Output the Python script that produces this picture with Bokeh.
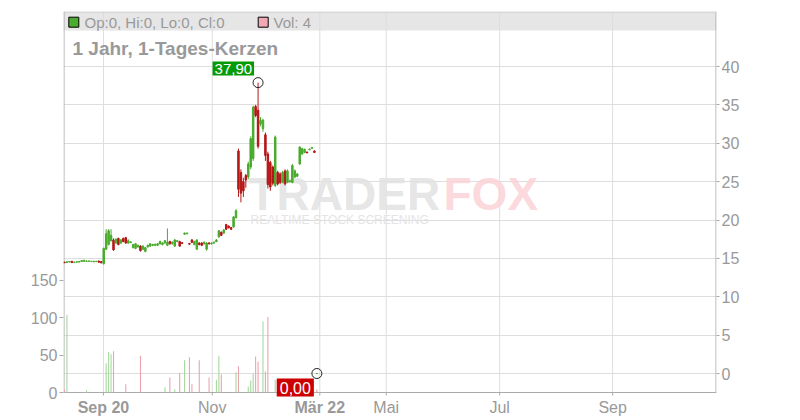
from bokeh.plotting import figure
from bokeh.models import Range1d, LinearAxis, FixedTicker, Label, BoxAnnotation, ColumnDataSource
from bokeh.embed import file_html
from bokeh.resources import INLINE
from bokeh.core.properties import value

# ---------------- data ----------------
opens = [14.50, 14.45, 14.52, 14.62, 14.45, 14.50, 14.52, 14.58, 14.62, 14.60,
         14.62, 14.58, 14.55, 14.58, 14.66, 14.58, 14.30, 16.20, 16.80, 17.30,
         17.40, 17.00, 17.60, 17.00, 17.60, 17.70, 17.00, 17.05, 16.40, 16.30,
         16.50, 16.60, 16.20, 15.90, 16.50, 16.60, 16.70, 16.70, 16.70, 16.90,
         16.80, 17.00, 16.70, 17.20, 16.90, 16.60, 17.20, 17.20, 17.05, 18.15,
         18.20, 16.95, 17.40, 16.80, 16.20, 17.00, 17.00, 16.90, 16.20, 17.00,
         16.90, 17.00, 17.20, 17.80, 18.40, 18.30, 19.40, 19.20, 19.00, 19.10,
         20.30, 29.00, 26.20, 25.00, 25.80, 25.60, 26.90, 28.00, 34.80, 34.30,
         32.50, 31.90, 31.10, 28.60, 27.50, 26.90, 24.50, 26.20, 26.00, 24.90,
         26.40, 24.90, 25.00, 24.90, 25.60, 25.70, 27.30, 28.60, 28.80, 28.85,
         29.15, 29.35, 29.00, 0.0]
highs = [14.55, 14.60, 14.62, 14.64, 14.56, 14.60, 14.62, 14.78, 14.80, 14.72,
         14.70, 14.66, 14.66, 14.66, 14.68, 14.62, 16.40, 18.80, 18.80, 18.80,
         17.60, 17.60, 17.70, 17.50, 17.70, 17.80, 17.50, 17.20, 16.90, 17.00,
         16.80, 16.70, 16.70, 16.50, 16.80, 17.00, 16.90, 16.90, 17.00, 17.30,
         17.10, 17.40, 18.90, 17.30, 17.20, 17.50, 17.40, 17.30, 17.10, 18.35,
         18.35, 17.00, 17.50, 17.30, 17.50, 17.10, 17.10, 17.20, 17.10, 17.10,
         17.10, 17.20, 17.50, 18.70, 18.50, 18.80, 19.50, 19.30, 19.10, 20.50,
         21.40, 29.30, 26.60, 25.50, 26.00, 27.60, 30.90, 34.90, 35.00, 37.90,
         33.40, 33.20, 31.40, 28.90, 27.70, 27.10, 31.00, 26.40, 26.20, 26.40,
         26.60, 26.60, 25.20, 27.30, 26.60, 26.10, 29.60, 29.40, 29.30, 28.90,
         29.30, 29.50, 29.05, 0.0]
lows = [14.40, 14.42, 14.50, 14.40, 14.42, 14.46, 14.50, 14.56, 14.60, 14.58,
        14.56, 14.55, 14.52, 14.54, 14.45, 14.36, 14.20, 16.10, 16.70, 17.20,
        16.00, 16.90, 16.70, 16.90, 17.10, 16.90, 16.90, 17.00, 16.30, 16.20,
        16.40, 15.90, 16.10, 15.80, 16.40, 16.50, 16.60, 16.60, 16.60, 16.80,
        16.70, 16.90, 16.60, 16.80, 16.80, 16.50, 17.10, 16.50, 16.90, 18.10,
        18.15, 16.80, 17.00, 16.70, 16.10, 16.70, 16.60, 16.80, 16.00, 16.80,
        16.80, 16.90, 17.10, 17.70, 17.90, 18.20, 18.70, 18.90, 18.70, 19.00,
        20.20, 23.00, 22.30, 23.00, 24.20, 25.30, 26.60, 27.70, 33.40, 29.30,
        32.20, 31.50, 27.70, 24.10, 23.80, 24.50, 24.30, 24.50, 24.70, 24.80,
        24.50, 24.80, 24.90, 24.80, 25.50, 25.60, 27.20, 28.50, 28.70, 28.70,
        29.10, 29.30, 28.75, 0.0]
closes = [14.42, 14.55, 14.60, 14.45, 14.52, 14.56, 14.60, 14.72, 14.76, 14.66,
          14.66, 14.62, 14.62, 14.62, 14.50, 14.42, 16.30, 18.20, 18.60, 18.00,
          16.10, 17.50, 16.80, 17.40, 17.20, 17.00, 17.30, 17.15, 16.80, 16.90,
          16.70, 16.00, 16.60, 16.40, 16.70, 16.90, 16.80, 16.85, 16.90, 17.20,
          17.00, 17.30, 17.10, 16.90, 17.10, 17.40, 17.30, 16.60, 16.95, 18.30,
          18.30, 16.85, 17.10, 17.20, 17.40, 16.80, 16.70, 17.10, 17.00, 16.90,
          17.00, 17.10, 17.40, 18.60, 18.00, 18.70, 18.80, 19.00, 18.80, 20.40,
          21.20, 24.00, 23.50, 23.80, 25.20, 27.30, 30.60, 34.70, 33.60, 29.60,
          33.00, 33.00, 28.40, 24.60, 24.30, 24.80, 30.80, 24.70, 24.90, 26.20,
          24.70, 26.40, 25.10, 27.10, 26.40, 26.00, 29.50, 29.30, 29.20, 28.75,
          29.25, 29.45, 28.80, 0.0]
volumes = [4, 104, 0, 0, 0, 0, 0, 0, 0, 3,
           0, 0, 0, 0, 0, 0, 0, 39, 54, 51,
           55, 0, 0, 0, 0, 11, 0, 0, 0, 0,
           0, 49, 0, 0, 0, 0, 0, 0, 0, 0,
           0, 7, 0, 20, 0, 4, 0, 26, 0, 43,
           0, 47, 11, 0, 0, 43, 0, 0, 0, 20,
           0, 0, 17, 49, 24, 0, 0, 0, 0, 0,
           27, 35, 0, 0, 0, 8, 16, 25, 48, 41,
           0, 95, 28, 101, 0, 0, 17, 0, 0, 0,
           0, 0, 0, 0, 0, 0, 0, 0, 0, 0,
           0, 0, 0, 4]

x_tick_pos = [15.9, 60.3, 104.2, 131.3, 177.6, 223.7]
x_tick_labels = ["Sep 20", "Nov", "Mär 22", "Mai", "Jul", "Sep"]
price_ticks = [0, 5, 10, 15, 20, 25, 30, 35, 40]
vol_ticks = [0, 50, 100, 150]
title_text = "1 Jahr, 1-Tages-Kerzen"

# ---------------- styling / layout ----------------
FONT = "Liberation Sans"
GREEN = "#4aab2e"
RED = "#b51717"
VGREEN = "#a8d9a0"
VRED = "#eba4ad"
TXT = "#999999"
AX = "#aaaaaa"
GRID = "#dddddd"

W, H = 800, 420
FX0, FX1, FY0, FY1 = 63, 716, 11, 420      # plotting frame (page pixels)
AXIS_Y = 392                                # bottom axis line (page pixels)
x_start, x_end = -0.41, 266.1
PX_PRICE = 7.675                            # pixels per price unit
PRICE0_Y = 373                              # pixel row of price 0
PX_VOL = 0.748                              # pixels per volume unit

y_end = (PRICE0_Y - FY0) / PX_PRICE
y_start = -(FY1 - PRICE0_Y) / PX_PRICE
vol_start = -(FY1 - AXIS_Y) / PX_VOL
vol_end = (AXIS_Y - FY0) / PX_VOL
px_x = (FX1 - FX0) / (x_end - x_start)


def sx(px):
    return x_start + (px - FX0) / px_x


def sy(py):
    return y_end - (py - FY0) / PX_PRICE


N = len(closes)
idx = list(range(N))
colors = [GREEN if c >= o else RED for o, c in zip(opens, closes)]
vcolors = [VGREEN if c > o else VRED for o, c in zip(opens, closes)]

src = ColumnDataSource(dict(
    x=idx, o=opens, h=highs, l=lows, c=closes,
    top=[max(o, c) for o, c in zip(opens, closes)],
    bot=[min(o, c) for o, c in zip(opens, closes)],
    col=colors, vol=volumes, vcol=vcolors,
))

p = figure(width=W, height=H, x_range=Range1d(x_start, x_end),
           y_range=Range1d(y_start, y_end), output_backend="svg",
           toolbar_location=None, y_axis_location="right", title=None,
           min_border_left=FX0, min_border_right=W - FX1, min_border_top=FY0,
           min_border_bottom=H - FY1)
p.extra_y_ranges = {"vol": Range1d(vol_start, vol_end)}
p.outline_line_color = None
p.background_fill_color = "white"
p.xaxis.visible = False
p.xgrid.visible = False

# right (price) axis
ra = p.yaxis[0]
ra.ticker = FixedTicker(ticks=price_ticks)
# left (volume) axis
la = LinearAxis(y_range_name="vol", ticker=FixedTicker(ticks=vol_ticks))
p.add_layout(la, "left")
for ax in [ra, la]:
    ax.axis_line_color = None
    ax.major_tick_line_color = AX
    ax.major_tick_in = 0
    ax.major_tick_out = 3
    ax.minor_tick_line_color = None
    ax.major_label_text_color = TXT
    ax.major_label_text_font = FONT
    ax.major_label_text_font_size = "16px"
    ax.major_label_standoff = 2
la.major_tick_out = 4

p.ygrid.ticker = FixedTicker(ticks=price_ticks)
p.ygrid.grid_line_color = GRID

# header band
p.add_layout(BoxAnnotation(top=y_end, bottom=sy(30), fill_color="#e6e6e6", fill_alpha=1.0,
                           line_alpha=0, level="image"))

# vertical grid lines, frame lines, bottom axis + ticks
p.segment(x0=x_tick_pos, y0=[sy(FY0)] * len(x_tick_pos), x1=x_tick_pos,
          y1=[sy(AXIS_Y)] * len(x_tick_pos), line_color=GRID, line_width=1, level="underlay")
p.segment(x0=[x_start, sx(FX0 + 0.5), sx(FX1 - 0.5)],
          y0=[sy(AXIS_Y), sy(FY0), sy(FY0)],
          x1=[x_end, sx(FX0 + 0.5), sx(FX1 - 0.5)],
          y1=[sy(AXIS_Y), sy(AXIS_Y), sy(AXIS_Y)], line_color=AX, line_width=1)
p.segment(x0=[x_start], y0=[sy(FY0 + 0.5)], x1=[x_end], y1=[sy(FY0 + 0.5)],
          line_color="#cccccc", line_width=1)
p.segment(x0=x_tick_pos, y0=[sy(AXIS_Y)] * len(x_tick_pos), x1=x_tick_pos,
          y1=[sy(AXIS_Y + 3)] * len(x_tick_pos), line_color=AX, line_width=1)
lab_src = ColumnDataSource(dict(
    x=x_tick_pos, y=[sy(AXIS_Y + 15)] * len(x_tick_pos), t=x_tick_labels,
    st=["bold" if " " in t else "normal" for t in x_tick_labels]))
p.text(x="x", y="y", text="t", source=lab_src, text_font=value(FONT), text_font_size="16px",
       text_color=TXT, text_align="center", text_baseline="middle", text_font_style="st")

# watermark
for txt, xx, col in [("TRADER", 248, "#e2e2e2"), ("FOX", 443, "#fbd3d7")]:
    p.add_layout(Label(x=sx(xx), y=sy(193), text=txt, text_font=FONT, text_font_size="46px",
                       text_font_style="bold", text_color=col, text_alpha=0.85,
                       text_baseline="middle", level="underlay"))
p.add_layout(Label(x=sx(250), y=sy(219), text="REALTIME STOCK SCREENING", text_font=FONT,
                   text_font_size="12px", text_color="#e4e4e4", text_baseline="middle",
                   level="underlay"))

# volume
p.vbar(x="x", width=0.45, top="vol", bottom=0, y_range_name="vol", source=src,
       fill_color="vcol", line_alpha=0)

# candles
p.segment(x0="x", y0="l", x1="x", y1="h", source=src, line_color="col", line_width=1)
p.vbar(x="x", width=0.6, top="top", bottom="bot", source=src, fill_color="col",
       line_color="col", line_width=1)

# marker circles + value labels
peak_i = max(idx, key=lambda i: highs[i])
p.scatter([peak_i, N - 1], [highs[peak_i], closes[-1]], marker="circle", size=10,
          fill_alpha=0, line_color="#222222", line_width=1)


def fmt(v):
    return f"{v:.2f}".replace(".", ",")


p.add_layout(Label(x=peak_i, y=highs[peak_i], x_offset=-4, y_offset=7, text=fmt(highs[peak_i]),
                   text_align="right", text_baseline="bottom", text_font=FONT,
                   text_font_size="15px", text_color="white",
                   background_fill_color="#079a07", padding=2))
p.add_layout(Label(x=N - 1, y=closes[-1], x_offset=-3, y_offset=-5, text=fmt(closes[-1]),
                   text_align="right", text_baseline="top", text_font=FONT,
                   text_font_size="16px", text_color="white",
                   background_fill_color="#cc0000", padding=3))

# header legend
p.scatter([sx(73.3)], [sy(21.7)], marker="square", size=10, fill_color=GREEN,
          line_color="black", line_width=1)
p.scatter([sx(262.7)], [sy(21.7)], marker="square", size=10, fill_color="#f0a8b4",
          line_color="black", line_width=1)
hdr = f"Op:{opens[-1]:g}, Hi:{highs[-1]:g}, Lo:{lows[-1]:g}, Cl:{closes[-1]:g}"
p.add_layout(Label(x=sx(84), y=sy(21.5), text=hdr, text_font=FONT, text_font_size="15px",
                   text_color=TXT, text_baseline="middle"))
p.add_layout(Label(x=sx(273), y=sy(21.5), text=f"Vol: {volumes[-1]:g}", text_font=FONT,
                   text_font_size="15px", text_color=TXT, text_baseline="middle"))

# title
p.add_layout(Label(x=sx(72), y=sy(47.5), text=title_text, text_font=FONT,
                   text_font_size="19px", text_font_style="bold", text_color=TXT,
                   text_baseline="middle"))

open("out.html", "w").write(file_html(p, INLINE))
